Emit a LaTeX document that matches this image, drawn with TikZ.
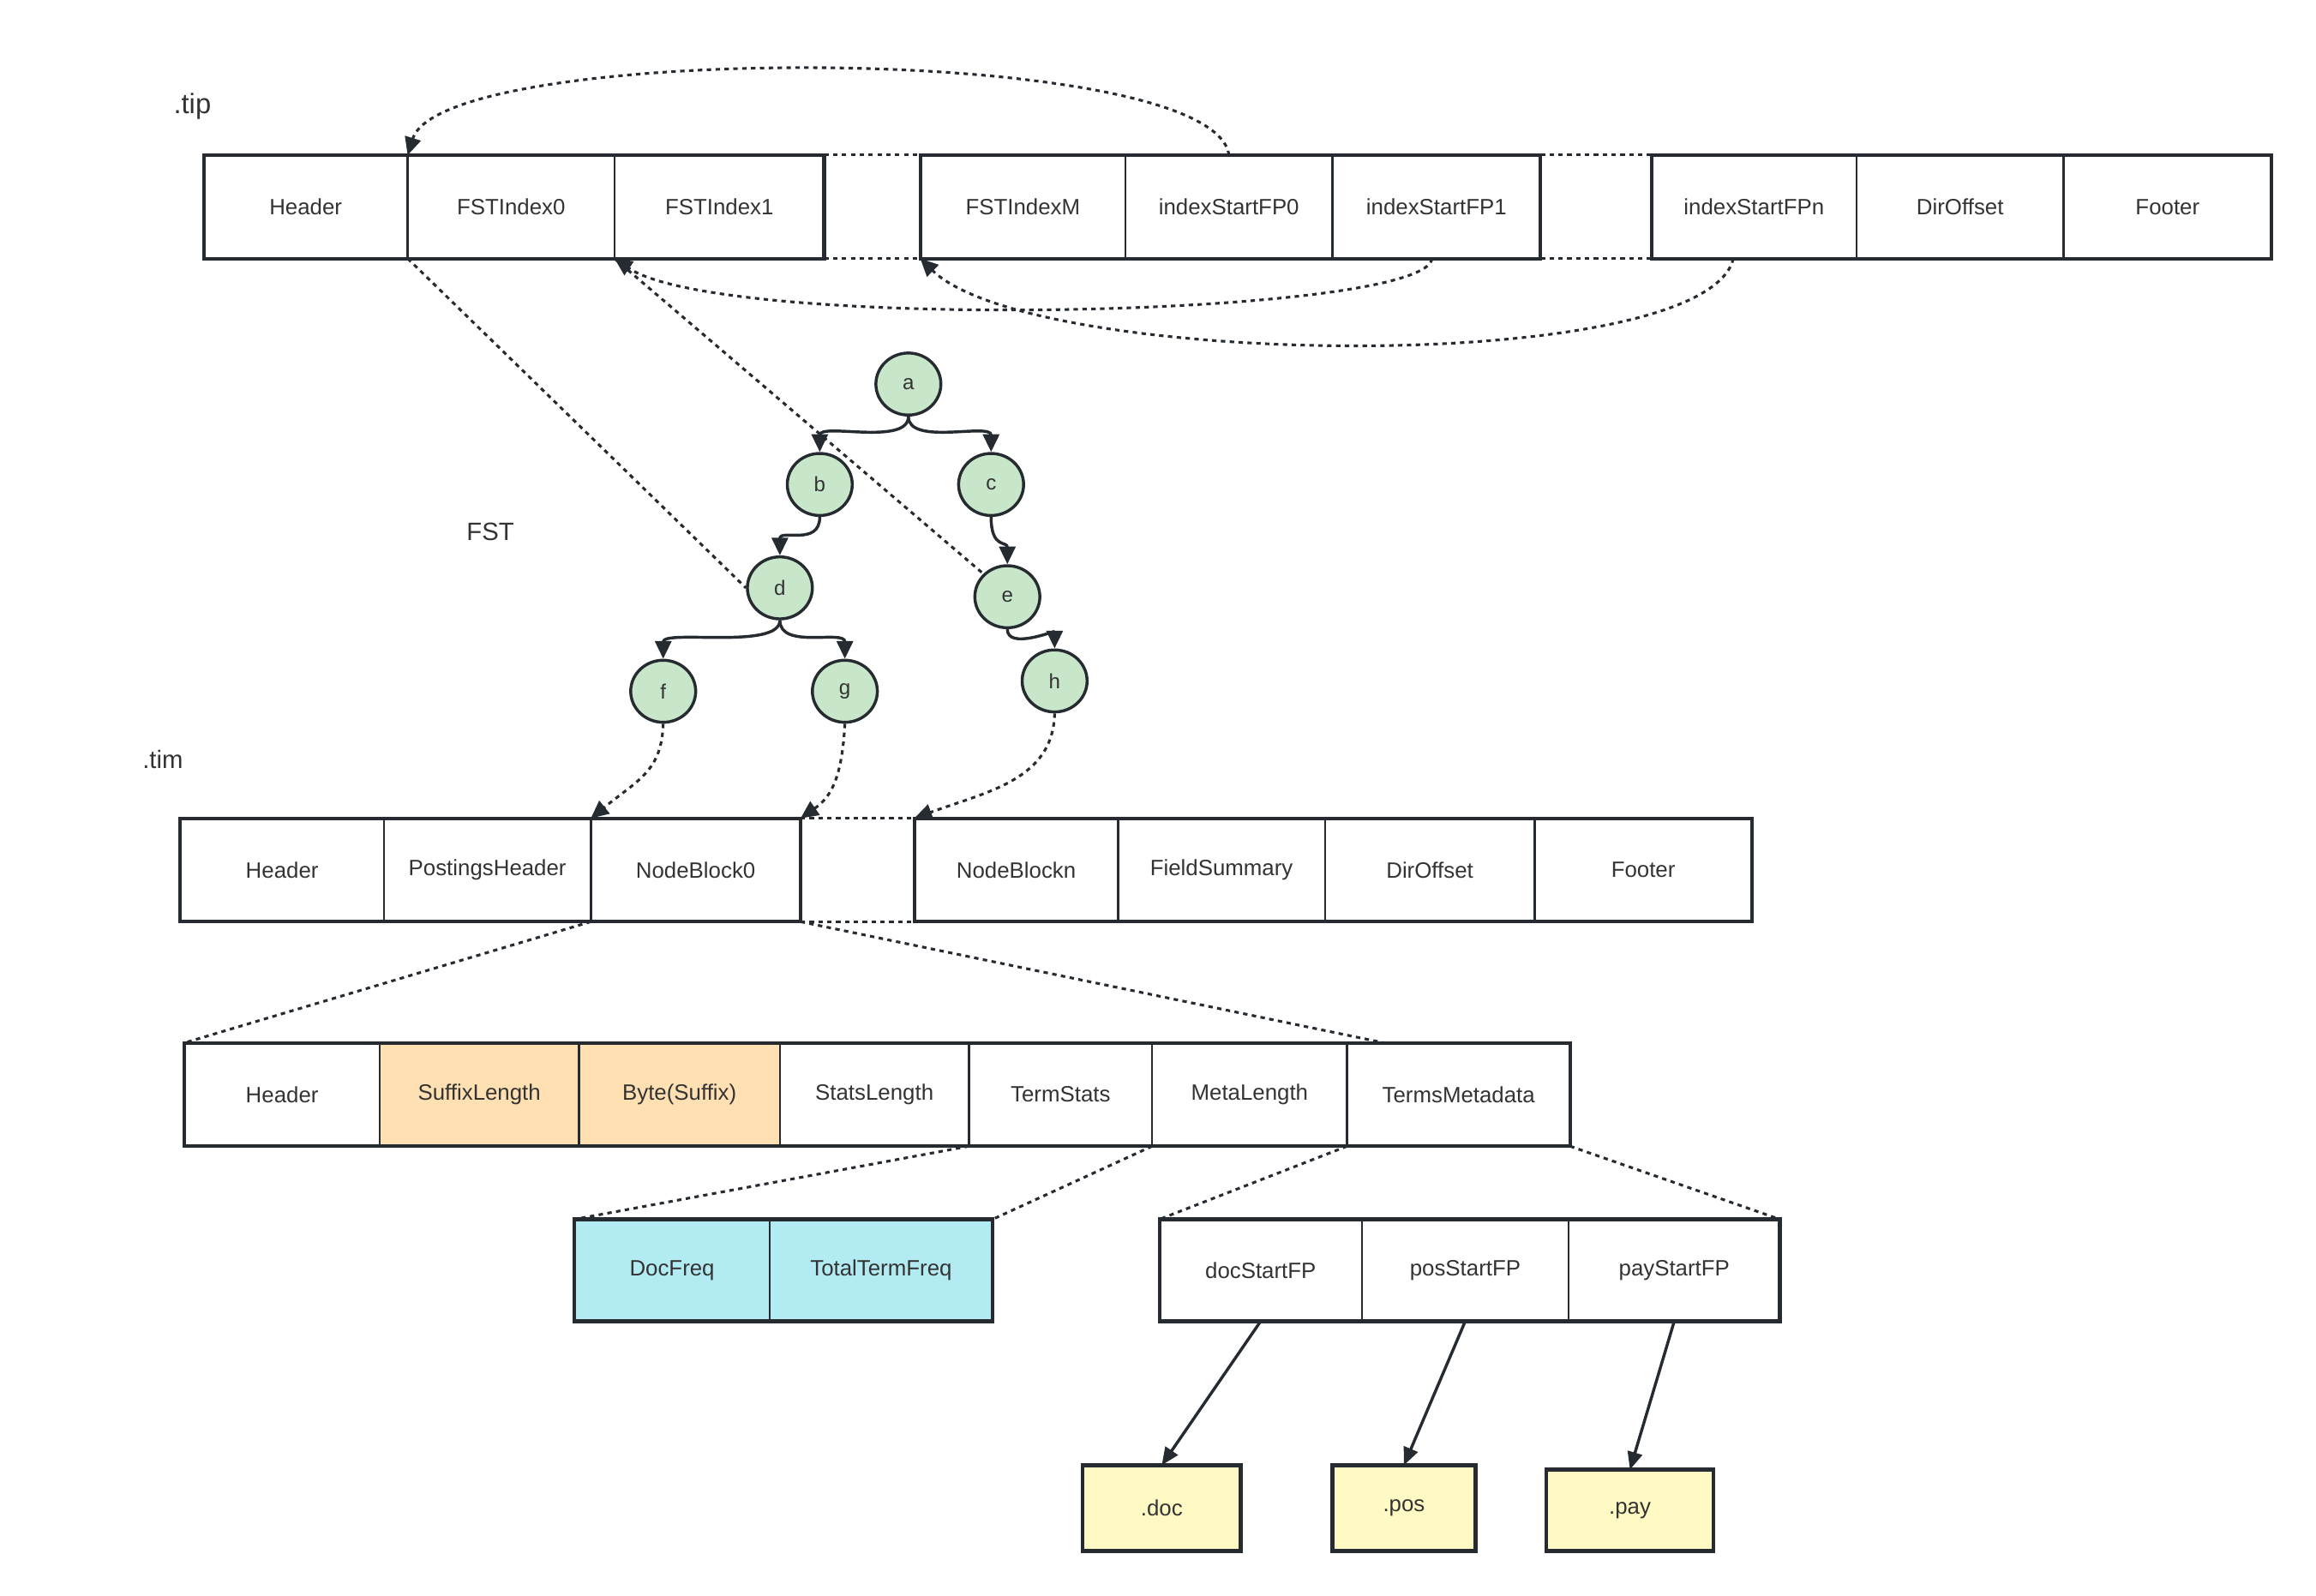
\documentclass[tikz,border=0pt]{standalone}
\usepackage{fontspec}
\setmainfont{Liberation Sans}
\usetikzlibrary{arrows.meta,shapes.geometric}

\definecolor{linec}{HTML}{252B31}
\definecolor{textc}{HTML}{333333}
\definecolor{fstgreen}{HTML}{C8E6C9}
\definecolor{sufforange}{HTML}{FFE0B2}
\definecolor{statcyan}{HTML}{B2EBF2}
\definecolor{fileyellow}{HTML}{FFF9C4}

\begin{document}
\begin{tikzpicture}[x = 1pt, y = -1pt,
                    cell/.style = {draw = linec, line width = 1.4pt, minimum height = 70pt,
                                   inner sep = 0pt, outer sep = 0pt, anchor = west,
                                   text = textc, font = \fontsize{15}{17}\selectfont},
                    rowframe/.style = {draw = linec, line width = 2.4pt},
                    filebox/.style = {draw = linec, line width = 2.6pt, fill = fileyellow,
                                      inner sep = 0pt, outer sep = 0pt, text = textc,
                                      font = \fontsize{15}{17}\selectfont},
                    fstnode/.style = {ellipse, draw = linec, line width = 2pt, fill = fstgreen,
                                      minimum width = 44pt, minimum height = 42pt, inner sep = 0pt,
                                      text = textc, font = \fontsize{14}{16}\selectfont},
                    filelabel/.style = {text = textc, anchor = west},
                    dotline/.style = {draw = linec, line width = 1.8pt, dash pattern = on 3pt off 3pt},
                    ptr/.style = {dotline, -{Triangle[length = 12pt, width = 11pt]}},
                    treeedge/.style = {draw = linec, line width = 2pt,
                                       -{Triangle[length = 12pt, width = 11pt]}},
                    fileedge/.style = {draw = linec, line width = 2pt,
                                       -{Triangle[length = 12pt, width = 10pt]}}]

  \useasboundingbox (0, 0) rectangle (1568, 1080);

  % labels
  \node[filelabel, font = \fontsize{19}{22}\selectfont] (tiplabel) at (114, 72) {.tip};
  \node[filelabel, font = \fontsize{17}{20}\selectfont] (timlabel) at (93, 514) {.tim};
  \node[text = textc, font = \fontsize{17}{20}\selectfont] (fstlabel) at (332, 360) {FST};

  % .tip file
  \node[cell, minimum width = 138pt] (tiph)     at (138, 140)  {Header};
  \node[cell, minimum width = 140pt] (tipfst0)  at (276, 140)  {FSTIndex0};
  \node[cell, minimum width = 142pt] (tipfst1)  at (416, 140)  {FSTIndex1};
  \node[cell, minimum width = 139pt] (tipfstm)  at (623, 140)  {FSTIndexM};
  \node[cell, minimum width = 140pt] (tipisfp0) at (762, 140)  {indexStartFP0};
  \node[cell, minimum width = 141pt] (tipisfp1) at (902, 140)  {indexStartFP1};
  \node[cell, minimum width = 139pt] (tipisfpn) at (1118, 140) {indexStartFPn};
  \node[cell, minimum width = 140pt] (tipdir)   at (1257, 140) {DirOffset};
  \node[cell, minimum width = 141pt] (tipfoot)  at (1397, 140) {Footer};
  \draw[rowframe] (tiph.north west) rectangle (tipfst1.south east);
  \draw[rowframe] (tipfstm.north west) rectangle (tipisfp1.south east);
  \draw[rowframe] (tipisfpn.north west) rectangle (tipfoot.south east);
  \draw[dotline] (tipfst1.north east) -- (tipfstm.north west);
  \draw[dotline] (tipfst1.south east) -- (tipfstm.south west);
  \draw[dotline] (tipisfp1.north east) -- (tipisfpn.north west);
  \draw[dotline] (tipisfp1.south east) -- (tipisfpn.south west);

  % FST
  \node[fstnode] (a) at (615, 260) {a};
  \node[fstnode] (b) at (555, 328) {b};
  \node[fstnode] (c) at (671, 328) {c};
  \node[fstnode] (d) at (528, 398) {d};
  \node[fstnode] (e) at (682, 404) {e};
  \node[fstnode] (f) at (449, 468) {f};
  \node[fstnode] (g) at (572, 468) {g};
  \node[fstnode] (h) at (714, 461) {h};
  \draw[treeedge] (a.south) .. controls +(0, 20) and +(0, -20) .. (b.north);
  \draw[treeedge] (a.south) .. controls +(0, 20) and +(0, -20) .. (c.north);
  \draw[treeedge] (b.south) .. controls +(0, 20) and +(0, -18) .. (d.north);
  \draw[treeedge] (c.south) .. controls +(0, 22) and +(0, -16) .. (e.north);
  \draw[treeedge] (d.south) .. controls +(0, 20) and +(0, -20) .. (f.north);
  \draw[treeedge] (d.south) .. controls +(0, 20) and +(0, -20) .. (g.north);
  \draw[treeedge] (e.south) .. controls +(0, 14) and +(0, -12) .. (h.north);

  % index pointers
  \draw[ptr] (tipisfp0.north) .. controls (822, 28) and (300, 28) .. (tipfst0.north west);
  \draw[ptr] ([xshift = -3pt]tipisfp1.south) .. controls (965, 215) and (490, 225) .. (tipfst1.south west);
  \draw[ptr] ([xshift = -14pt]tipisfpn.south) .. controls (1155, 255) and (700, 250) .. (tipfstm.south west);
  \draw[dotline] (tipfst0.south west) -- (d.west);
  \draw[dotline] (tipfst1.south west) -- (e.north west);

  % .tim file
  \node[cell, minimum width = 138pt] (timh)    at (122, 589)  {Header};
  \node[cell, minimum width = 140pt] (timph)   at (260, 589)  {PostingsHeader};
  \node[cell, minimum width = 142pt] (timnb0)  at (400, 589)  {NodeBlock0};
  \node[cell, minimum width = 138pt] (timnbn)  at (619, 589)  {NodeBlockn};
  \node[cell, minimum width = 140pt] (timfs)   at (757, 589)  {FieldSummary};
  \node[cell, minimum width = 142pt] (timdir)  at (897, 589)  {DirOffset};
  \node[cell, minimum width = 147pt] (timfoot) at (1039, 589) {Footer};
  \draw[rowframe] (timh.north west) rectangle (timnb0.south east);
  \draw[rowframe] (timnbn.north west) rectangle (timfoot.south east);
  \draw[dotline] (timnb0.north east) -- (timnbn.north west);
  \draw[dotline] (timnb0.south east) -- (timnbn.south west);

  % leaves to blocks
  \draw[ptr] (f.south) .. controls (448, 522) and (432, 528) .. (timph.north east);
  \draw[ptr] (g.south) .. controls (570, 528) and (562, 540) .. (timnb0.north east);
  \draw[ptr] (h.south) .. controls (713, 528) and (668, 536) .. (timnbn.north west);

  % NodeBlock
  \node[cell, minimum width = 132pt] (blkh)  at (125, 741) {Header};
  \node[cell, minimum width = 135pt, fill = sufforange] (blksl) at (257, 741) {SuffixLength};
  \node[cell, minimum width = 136pt, fill = sufforange] (blkbs) at (392, 741) {Byte(Suffix)};
  \node[cell, minimum width = 128pt] (blkstl) at (528, 741) {StatsLength};
  \node[cell, minimum width = 124pt] (blkts)  at (656, 741) {TermStats};
  \node[cell, minimum width = 132pt] (blkml)  at (780, 741) {MetaLength};
  \node[cell, minimum width = 151pt] (blktm)  at (912, 741) {TermsMetadata};
  \draw[rowframe] (blkh.north west) rectangle (blktm.south east);
  \draw[dotline] (timnb0.south west) -- (blkh.north west);
  \draw[dotline] (timnb0.south east) -- ([xshift = 25pt]blktm.north west);

  % TermStats and TermsMetadata
  \node[cell, minimum width = 132pt, minimum height = 69pt, fill = statcyan] (stdf)  at (389, 860) {DocFreq};
  \node[cell, minimum width = 151pt, minimum height = 69pt, fill = statcyan] (stttf) at (521, 860) {TotalTermFreq};
  \draw[rowframe] (stdf.north west) rectangle (stttf.south east);
  \node[cell, minimum width = 137pt, minimum height = 69pt] (mdoc) at (785, 860)  {docStartFP};
  \node[cell, minimum width = 140pt, minimum height = 69pt] (mpos) at (922, 860)  {posStartFP};
  \node[cell, minimum width = 143pt, minimum height = 69pt] (mpay) at (1062, 860) {payStartFP};
  \draw[rowframe] (mdoc.north west) rectangle (mpay.south east);
  \draw[dotline] (blkts.south west) -- (stdf.north west);
  \draw[dotline] (blkml.south west) -- (stttf.north east);
  \draw[dotline] (blktm.south west) -- (mdoc.north west);
  \draw[dotline] (blktm.south east) -- (mpay.north east);

  % postings files
  \node[filebox, minimum width = 107pt, minimum height = 58pt] (fdoc) at (786.5, 1021)  {.doc};
  \node[filebox, minimum width = 97pt, minimum height = 58pt]  (fpos) at (950.5, 1021)  {.pos};
  \node[filebox, minimum width = 113pt, minimum height = 55pt] (fpay) at (1103.5, 1022.5) {.pay};
  \draw[fileedge] (mdoc.south) -- (fdoc.north);
  \draw[fileedge] (mpos.south) -- (fpos.north);
  \draw[fileedge] (mpay.south) -- (fpay.north);
\end{tikzpicture}
\end{document}
